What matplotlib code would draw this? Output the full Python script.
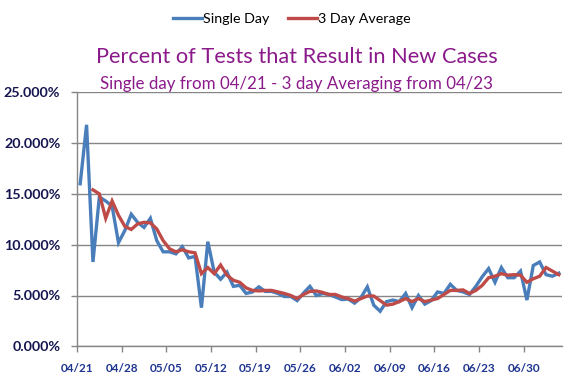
import numpy as np
import matplotlib.pyplot as plt
from matplotlib.ticker import FuncFormatter

# Werte in Prozent, ein Wert pro Tag ab 04/21
single_day = [16.0, 21.8, 8.3, 14.7, 14.3, 13.8, 10.2, 11.4, 13.0, 12.2,
              11.7, 12.6, 10.4, 9.3, 9.3, 9.1, 9.8, 8.7, 8.85, 3.8,
              10.3, 7.3, 6.6, 7.3, 5.9, 6.0, 5.2, 5.35, 5.85, 5.4,
              5.4, 5.2, 4.9, 4.9, 4.5, 5.25, 5.9, 5.0, 5.2, 5.1,
              4.85, 4.6, 4.65, 4.25, 4.8, 5.85, 4.05, 3.45, 4.4, 4.55,
              4.4, 5.2, 3.8, 5.0, 4.15, 4.5, 5.35, 5.2, 6.1, 5.5,
              5.35, 5.1, 5.9, 6.85, 7.65, 6.3, 7.75, 6.75, 6.75, 7.4,
              4.55, 7.95, 8.3, 7.05, 6.9, 7.2]

# 3-Tage-Mittel ab 04/23
three_day_avg = [15.4, 15.0, 12.6, 14.3, 12.9, 11.8, 11.5, 12.05, 12.2, 12.15,
                 11.55, 10.4, 9.6, 9.3, 9.5, 9.3, 9.2, 7.15, 7.75, 7.15,
                 8.0, 7.0, 6.5, 6.3, 5.75, 5.5, 5.45, 5.5, 5.5, 5.35,
                 5.2, 5.0, 4.7, 5.1, 5.4, 5.45, 5.3, 5.1, 5.1, 4.85,
                 4.7, 4.45, 4.7, 4.95, 4.95, 4.5, 4.05, 4.15, 4.4, 4.7,
                 4.4, 4.7, 4.4, 4.55, 4.7, 5.1, 5.5, 5.5, 5.55, 5.2,
                 5.5, 6.0, 6.75, 6.9, 7.15, 7.0, 7.05, 7.0, 6.3, 6.65,
                 6.9, 7.75, 7.4, 7.05]
avg_start = 2  # 04/23

tick_labels = ['04/21', '04/28', '05/05', '05/12', '05/19', '05/26',
               '06/02', '06/09', '06/16', '06/23', '06/30']

plt.rcParams['font.family'] = ['Lato', 'DejaVu Sans']

fig = plt.figure(figsize=(5.77, 3.84), dpi=100)
ax = fig.add_axes([77 / 577, 1 - 346.3 / 384, 485 / 577, 254 / 384])

x_single = np.arange(len(single_day))
x_avg = np.arange(avg_start, avg_start + len(three_day_avg))

blue = '#4A7EBB'
red = '#BE4B48'
ax.plot(x_single, single_day, color=blue, lw=2.4, label='Single Day',
        solid_joinstyle='miter', zorder=3)
ax.plot(x_avg, three_day_avg, color=red, lw=2.4, label='3 Day Average',
        solid_joinstyle='miter', zorder=4)

# Achsen
ax.set_xlim(-0.5, len(single_day) - 0.5)
ax.set_ylim(0, 25)
ax.set_yticks(np.arange(0, 26, 5))
ax.yaxis.set_major_formatter(FuncFormatter(lambda v, p: '%.3f%%' % v))
ax.set_xticks(np.arange(len(tick_labels)) * 7 - 0.5)
ax.set_xticklabels(tick_labels)

grey = '#868686'
ax.grid(axis='y', color=grey, lw=1.0)
ax.set_axisbelow(True)
for s in ['top', 'right']:
    ax.spines[s].set_visible(False)
for s in ['left', 'bottom']:
    ax.spines[s].set_color(grey)
    ax.spines[s].set_linewidth(1.0)

ax.tick_params(axis='x', direction='out', length=4, width=1, color=grey,
               pad=8, labelsize=8.5, labelcolor='#1F3590')
ax.tick_params(axis='y', direction='out', length=4, width=1, color=grey,
               pad=8, labelsize=10.3, labelcolor='#151550')
for lbl in ax.get_xticklabels() + ax.get_yticklabels():
    lbl.set_fontweight('bold')

# Titel
purple = '#8B1A8B'
fig.text(296.5 / 577, 1 - 57 / 384, 'Percent of Tests that Result in New Cases',
         ha='center', va='center', fontsize=15.7, color=purple)
fig.text(296.5 / 577, 1 - 84 / 384,
         'Single day from 04/21 - 3 day Averaging from 04/23',
         ha='center', va='center', fontsize=12.2, color=purple)

fig.legend(loc='center', bbox_to_anchor=(292 / 577, 1 - 19 / 384), ncol=2,
           frameon=False, fontsize=10.3, handlelength=2.0, handletextpad=0.1,
           columnspacing=1.3)

fig.savefig('out.png', dpi=100)
